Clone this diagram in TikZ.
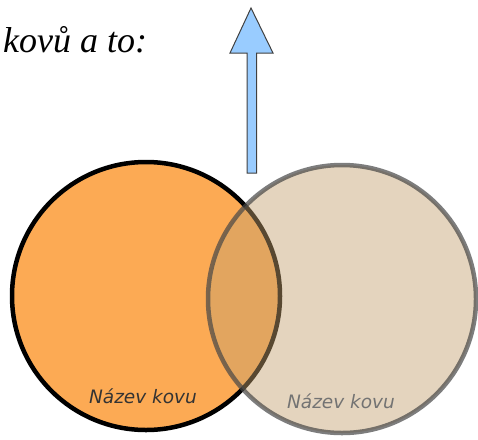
\documentclass[tikz,border=0pt]{standalone}
\usepackage{fontspec}
\setmainfont{Liberation Serif}
\newfontfamily\labelfont{DejaVu Sans}
\definecolor{orangefill}{RGB}{252,170,84}
\definecolor{beigefill}{RGB}{196,160,110}
\definecolor{arrowblue}{RGB}{153,204,255}
\definecolor{ringgray}{RGB}{70,70,70}
\tikzset{
  metal/.style={circle, minimum size=268pt, inner sep=0pt, line width=4.5pt},
  metallabel/.style={font=\labelfont\itshape\fontsize{18.5}{20}\selectfont, anchor=base, inner sep=0pt},
  arrowshape/.style={fill=arrowblue, draw=black!75, line width=1pt, line join=miter}
}
\begin{document}
\begin{tikzpicture}[x=1pt,y=-1pt]
\useasboundingbox (0,0) rectangle (478,439);
\node[font=\itshape\fontsize{36}{40}\selectfont, anchor=base west, inner sep=0pt] (title) at (3,52) {kovů a to:};
\path[arrowshape] (251,8) -- (273,53) -- (256.5,53) -- (256.5,173) -- (247,173) -- (247,53) -- (230,53) -- cycle;
\node[metal, draw=black, fill=orangefill] (left) at (146,296) {};
\node[metal, draw=ringgray, draw opacity=0.7, fill=beigefill, fill opacity=0.45] (right) at (342,299) {};
\node[metallabel, text=black!80] (leftlabel) at (143,403) {Název kovu};
\node[metallabel, text=black!55] (rightlabel) at (341,408) {Název kovu};
\end{tikzpicture}
\end{document}
